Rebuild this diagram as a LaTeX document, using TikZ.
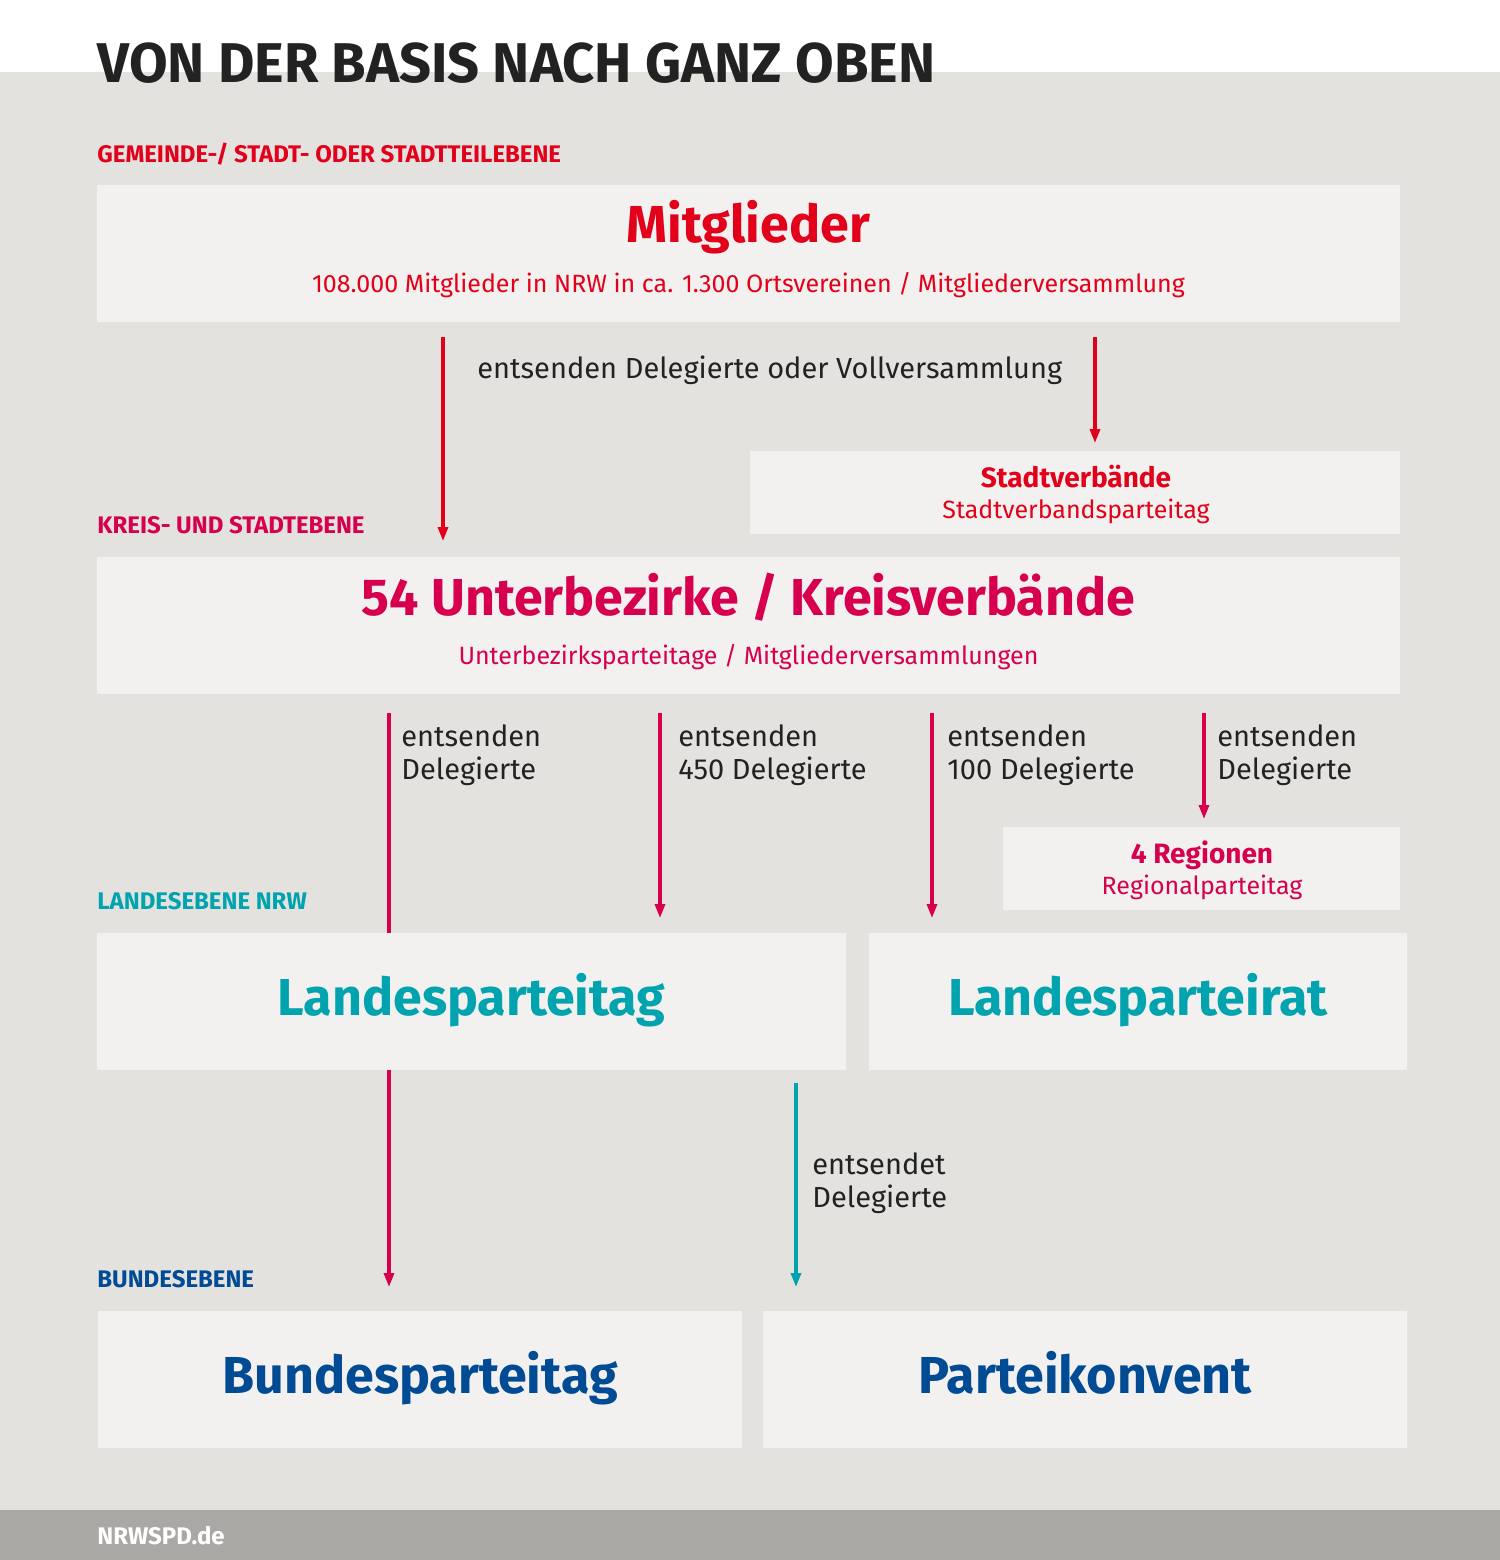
\documentclass[tikz,border=0pt]{standalone}
\usepackage{fontspec}
\setmainfont{Fira Sans}
\usetikzlibrary{arrows.meta}
\definecolor{bg}{HTML}{E3E2DF}
\definecolor{boxc}{HTML}{F2F1EF}
\definecolor{foot}{HTML}{A9A8A4}
\definecolor{spdred}{HTML}{E2001A}
\definecolor{crim}{HTML}{D6004F}
\definecolor{teal}{HTML}{00A3AE}
\definecolor{navy}{HTML}{004B93}
\definecolor{txt}{HTML}{222222}
\tikzset{
 x=0.5pt,y=-0.5pt,
 boxx/.style={fill=boxc,draw=none},
 arr/.style={line width=1.6pt,-{Triangle[length=7pt,width=5pt]}},
 lvl/.style={font=\fontsize{12}{14}\selectfont\bfseries,anchor=base west},
 body/.style={font=\fontsize{14.5}{16.5}\selectfont,text=txt,anchor=north west,align=left,inner sep=0},
 big/.style={font=\fontsize{26}{30}\selectfont\bfseries,anchor=base},
 sub/.style={font=\fontsize{12.5}{14}\selectfont,anchor=base},
 mid/.style={font=\fontsize{14}{16}\selectfont\bfseries,anchor=base},
}
\begin{document}
\begin{tikzpicture}
\useasboundingbox (0,0) rectangle (1500,1560);
\fill[white] (0,0) rectangle (1500,72);
\fill[bg] (0,72) rectangle (1500,1510);
\fill[foot] (0,1510) rectangle (1500,1560);
\node[font=\fontsize{28}{32}\selectfont\bfseries,text=txt,anchor=base west,inner sep=0] (title) at (97,82) {VON DER BASIS NACH GANZ OBEN};
\node[lvl,text=white,inner sep=0] (web) at (97,1544) {NRWSPD.de};
% level labels
\node[lvl,text=spdred,inner sep=0] (l1) at (97,162) {GEMEINDE-/ STADT- ODER STADTTEILEBENE};
\node[lvl,text=crim,inner sep=0] (l2) at (97,533) {KREIS- UND STADTEBENE};
\node[lvl,text=teal,inner sep=0] (l3) at (97,909) {LANDESEBENE NRW};
\node[lvl,text=navy,inner sep=0] (l4) at (97,1287) {BUNDESEBENE};
% boxes
\fill[boxx] (97,185) rectangle (1400,322);
\node[big,text=spdred] (mit) at (748.5,242) {Mitglieder};
\node[sub,text=spdred] (mits) at (748.5,292) {108.000 Mitglieder in NRW in ca. 1.300 Ortsvereinen / Mitgliederversammlung};
\fill[boxx] (750,451) rectangle (1400,534);
\node[mid,text=spdred] (sv) at (1076,487) {Stadtverbände};
\node[sub,text=spdred] (svs) at (1076,518) {Stadtverbandsparteitag};
\fill[boxx] (97,557) rectangle (1400,694);
\node[big,text=crim] (ub) at (748.5,615) {54 Unterbezirke / Kreisverbände};
\node[sub,text=crim] (ubs) at (748.5,664) {Unterbezirksparteitage / Mitgliederversammlungen};
\fill[boxx] (1003,827) rectangle (1400,910);
\node[mid,text=crim] (reg) at (1202,863) {4 Regionen};
\node[sub,text=crim] (regs) at (1202,894) {Regionalparteitag};
\fill[boxx] (97,933) rectangle (846,1070);
\node[big,text=teal] (lpt) at (471.5,1015) {Landesparteitag};
\fill[boxx] (869,933) rectangle (1407,1070);
\node[big,text=teal] (lpr) at (1138,1015) {Landesparteirat};
\fill[boxx] (98,1311) rectangle (742,1448);
\node[big,text=navy] (bpt) at (420,1393) {Bundesparteitag};
\fill[boxx] (763,1311) rectangle (1407,1448);
\node[big,text=navy] (pk) at (1085,1393) {Parteikonvent};
% coordinates
\coordinate (a1) at (443,337); \coordinate (a1e) at (443,541);
\coordinate (a2) at (1095,337); \coordinate (a2e) at (1095,443);
\coordinate (b1) at (389,713); \coordinate (b1e) at (389,933);
\coordinate (b2) at (660,713); \coordinate (b2e) at (660,918);
\coordinate (b3) at (932,713); \coordinate (b3e) at (932,918);
\coordinate (b4) at (1204,713); \coordinate (b4e) at (1204,819);
\coordinate (c1) at (389,1070); \coordinate (c1e) at (389,1287);
\coordinate (c2) at (796,1083); \coordinate (c2e) at (796,1287);
\draw[arr,spdred] (a1) -- (a1e);
\draw[arr,spdred] (a2) -- (a2e);
\draw[line width=1.6pt,crim] (b1) -- (b1e);
\draw[arr,crim] (b2) -- (b2e);
\draw[arr,crim] (b3) -- (b3e);
\draw[arr,crim] (b4) -- (b4e);
\draw[arr,crim] (c1) -- (c1e);
\draw[arr,teal] (c2) -- (c2e);
% labels
\node[body] (t0) at (477,355) {entsenden Delegierte oder Vollversammlung};
\node[body] (t1) at (401,724) {entsenden\\Delegierte};
\node[body] (t2) at (678,724) {entsenden\\450 Delegierte};
\node[body] (t3) at (947,724) {entsenden\\100 Delegierte};
\node[body] (t4) at (1217,724) {entsenden\\Delegierte};
\node[body] (t5) at (812,1152) {entsendet\\Delegierte};
\end{tikzpicture}
\end{document}
